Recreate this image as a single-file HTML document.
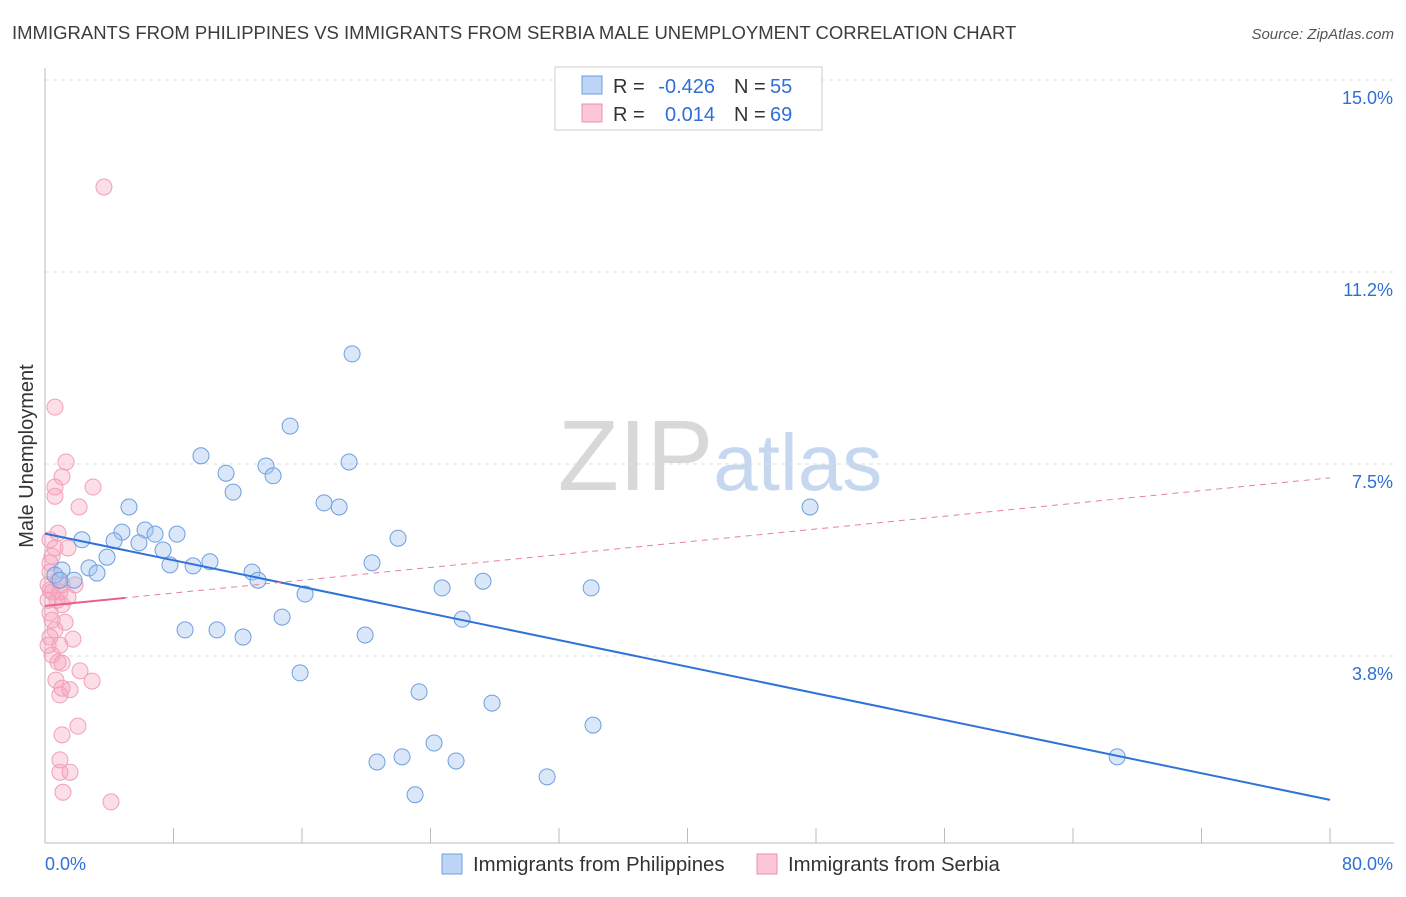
<!DOCTYPE html>
<html><head><meta charset="utf-8">
<style>
body{margin:0;background:#fff;font-family:"Liberation Sans",sans-serif;}
svg text{font-family:"Liberation Sans",sans-serif;}
</style></head>
<body>
<svg id="chart" width="1406" height="892" xmlns="http://www.w3.org/2000/svg">
<text x="12" y="39" font-size="18.5" fill="#3c3c3c">IMMIGRANTS FROM PHILIPPINES VS IMMIGRANTS FROM SERBIA MALE UNEMPLOYMENT CORRELATION CHART</text>
<text x="1394" y="39" font-size="15" fill="#555" text-anchor="end" font-style="italic">Source: ZipAtlas.com</text>
<text x="720" y="490" font-size="100" text-anchor="middle" font-family="Liberation Serif" fill="#d8d8d8">ZIP<tspan fill="#c5d8f0" font-family="Liberation Sans" font-size="80">atlas</tspan></text>
<text transform="translate(33,456) rotate(-90)" font-size="20" fill="#333" text-anchor="middle">Male Unemployment</text>
<g id="grid"></g>
<g id="axes"></g>
<g id="marks"></g>
<g>
<rect x="555" y="67" width="267" height="63" fill="#fff" stroke="#ccc"/>
<rect x="582" y="76" width="20" height="18" fill="#bcd4f5" stroke="#6e9ee0"/>
<rect x="582" y="104" width="20" height="18" fill="#fbc7d7" stroke="#ee8fae"/>
<text x="613" y="93" font-size="20" fill="#333">R =</text>
<text x="715" y="93" font-size="20" fill="#2f6fd6" text-anchor="end">-0.426</text>
<text x="734" y="93" font-size="20" fill="#333">N =</text>
<text x="770" y="93" font-size="20" fill="#2f6fd6">55</text>
<text x="613" y="121" font-size="20" fill="#333">R =</text>
<text x="715" y="121" font-size="20" fill="#2f6fd6" text-anchor="end">0.014</text>
<text x="734" y="121" font-size="20" fill="#333">N =</text>
<text x="770" y="121" font-size="20" fill="#2f6fd6">69</text>
</g>
<g>
<rect x="442" y="854" width="20" height="20" fill="#bcd4f5" stroke="#6e9ee0"/>
<text x="473" y="871" font-size="20.4" fill="#333">Immigrants from Philippines</text>
<rect x="757" y="854" width="20" height="20" fill="#fbc7d7" stroke="#ee8fae"/>
<text x="788" y="871" font-size="20.4" fill="#333">Immigrants from Serbia</text>
</g>
</svg>
<script>
const yTicks=[3.75,7.5,11.25,15.0];
const yTickLabels=["3.8%","7.5%","11.2%","15.0%"];
const xTickLabels=["0.0%","80.0%"];
const blueX=[19.12,15.26,9.71,11.27,13.76,14.20,11.71,18.93,5.23,17.37,18.31,47.63,4.79,6.23,6.85,8.22,2.30,4.30,5.85,7.35,3.86,21.98,10.27,7.78,9.22,20.36,12.89,13.26,1.06,0.62,2.74,3.24,1.81,16.19,24.72,27.27,34.0,25.97,14.76,8.72,10.71,12.33,19.93,15.88,23.29,27.83,34.12,24.22,22.23,20.67,25.59,66.75,31.26,23.04,0.93];
const blueY=[9.65,8.24,7.66,7.32,7.46,7.27,6.95,7.54,6.66,6.74,6.66,6.66,6.17,6.21,6.13,6.13,6.02,6.00,5.96,5.82,5.68,6.05,5.59,5.53,5.51,5.57,5.39,5.23,5.43,5.33,5.47,5.37,5.23,4.96,5.08,5.21,5.08,4.47,4.51,4.26,4.26,4.12,4.16,3.42,3.05,2.83,2.40,2.05,1.78,1.68,1.70,1.78,1.39,1.04,5.23];
const pinkX=[3.67,0.62,1.31,1.06,0.62,2.99,0.62,2.12,0.81,0.31,1.43,0.62,0.44,0.31,0.31,0.81,0.19,1.06,1.87,0.44,0.93,1.43,0.19,1.06,0.31,1.25,0.62,0.31,1.74,0.93,0.44,0.81,1.06,2.18,2.93,0.68,1.06,1.56,0.93,2.05,1.06,0.93,0.93,1.56,1.12,4.11,0.31,0.75,0.44,0.19];
const pinkY=[12.91,8.61,7.54,7.25,7.05,7.05,6.87,6.66,6.15,6.02,5.86,5.86,5.70,5.57,5.39,5.23,5.14,5.14,5.14,5.0,5.0,4.90,4.84,4.75,4.59,4.41,4.26,4.12,4.08,3.96,3.77,3.63,3.61,3.46,3.26,3.28,3.12,3.09,2.99,2.38,2.21,1.72,1.48,1.48,1.09,0.90,5.04,4.84,4.45,3.96];
const blueTrend=[6.14,0.94];
const pinkTrend=[4.73,7.23];
const X0=45,X1=1330,Y15=80,PPU=51.2;
const sx=v=>X0+(X1-X0)*v/80;
const sy=v=>Y15+(15-v)*PPU;
const NS="http://www.w3.org/2000/svg";
function mk(t,a,p){const e=document.createElementNS(NS,t);for(const k in a)e.setAttribute(k,a[k]);p.appendChild(e);return e;}
const grid=document.getElementById('grid'),axes=document.getElementById('axes'),marks=document.getElementById('marks');
yTicks.forEach((v,i)=>{
 const l=mk('line',{x1:45,x2:1394,y1:sy(v),y2:sy(v),stroke:'#ddd','stroke-dasharray':'4,4'},grid);
 
 
 const t=mk('text',{x:1393,y:sy(v)+24,'font-size':18,fill:'#2f6fd6','text-anchor':'end'},axes);
 t.textContent=yTickLabels[i];
 
 
});
const ya=mk('line',{x1:45,x2:45,y1:68,y2:843,stroke:'#bbb'},axes);


const xa=mk('line',{x1:45,x2:1394,y1:843,y2:843,stroke:'#bbb'},axes);


for(let i=1;i<=10;i++){const x=sx(i*8);const tk=mk('line',{x1:x,x2:x,y1:828,y2:843,stroke:'#bbb'},axes);
 
 }
const xl0=mk('text',{x:45,y:870,'font-size':18,fill:'#2f6fd6'},axes);xl0.textContent=xTickLabels[0];


const xl1=mk('text',{x:1393,y:870,'font-size':18,fill:'#2f6fd6','text-anchor':'end'},axes);xl1.textContent=xTickLabels[1];


pinkX.forEach((x,i)=>{const c=mk('circle',{cx:sx(x),cy:sy(pinkY[i]),r:8,fill:'rgba(246,160,187,0.35)',stroke:'#f0a0b8','stroke-width':1},marks);
 
 });
blueX.forEach((x,i)=>{const c=mk('circle',{cx:sx(x),cy:sy(blueY[i]),r:8,fill:'rgba(160,196,240,0.4)',stroke:'#6d9fe0','stroke-width':1},marks);
 
 });
const bt=mk('line',{x1:sx(0),y1:sy(blueTrend[0]),x2:sx(80),y2:sy(blueTrend[1]),stroke:'#2f72d8','stroke-width':2},marks);


const pd=mk('line',{x1:sx(0),y1:sy(pinkTrend[0]),x2:sx(80),y2:sy(pinkTrend[1]),stroke:'#e97fa0','stroke-width':1,'stroke-dasharray':'6,5'},marks);


const pe=pinkTrend[0]+(pinkTrend[1]-pinkTrend[0])*5/80;
const ps=mk('line',{x1:sx(0),y1:sy(pinkTrend[0]),x2:sx(5),y2:sy(pe),stroke:'#e9608a','stroke-width':2},marks);


</script>
</body></html>
